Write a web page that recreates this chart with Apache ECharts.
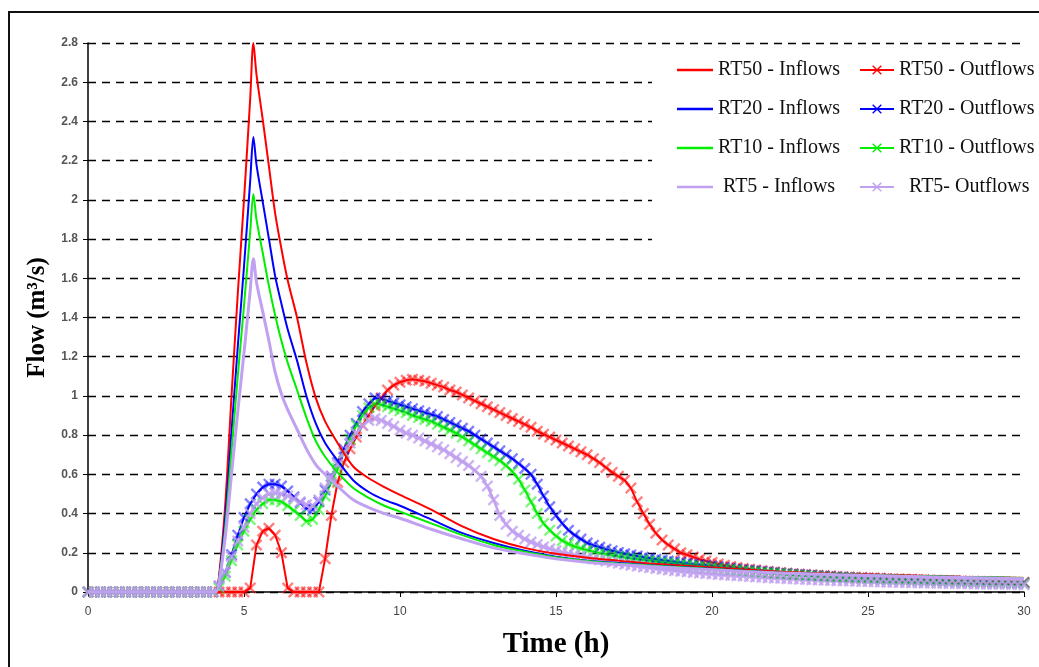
<!DOCTYPE html>
<html>
<head>
<meta charset="utf-8">
<title>Flow hydrographs</title>
<script src="https://cdn.jsdelivr.net/npm/echarts@6/dist/echarts.min.js"></script>
<style>
    html, body { margin: 0; padding: 0; background: #fff; }
    #main { width: 1039px; height: 667px; }
</style>
</head>
<body>
<div id="main"></div>
<script>
// inflow hydrographs (h -> m3/s)
var inTimes = [0, 4.0, 4.1, 4.2, 4.4, 4.6, 4.8, 5.0, 5.2, 5.3, 5.4, 5.6, 5.8, 6.0, 6.2, 6.4, 6.7, 7.0, 7.3, 7.6,
    8.0, 8.5, 9.0, 9.5, 10, 11, 12, 13, 14, 15, 16, 17, 18, 20, 22, 24, 26, 28, 30];
var rt50In = [0, 0, 0, 0.08, 0.45, 1.0, 1.52, 2.0, 2.52, 2.8, 2.64, 2.41, 2.17, 1.93, 1.75, 1.59, 1.40, 1.17, 0.99, 0.87,
    0.76, 0.64, 0.58, 0.535, 0.495, 0.42, 0.335, 0.27, 0.225, 0.195, 0.175, 0.16, 0.145, 0.125, 0.105, 0.093, 0.085, 0.078, 0.072];
var rt20In = [0, 0, 0, 0.07, 0.38, 0.82, 1.25, 1.66, 2.1, 2.32, 2.18, 1.99, 1.8, 1.61, 1.47, 1.34, 1.18, 1.0, 0.86, 0.76,
    0.67, 0.57, 0.51, 0.47, 0.44, 0.37, 0.3, 0.25, 0.21, 0.18, 0.16, 0.148, 0.137, 0.118, 0.1, 0.09, 0.082, 0.076, 0.07];
var rt10In = [0, 0, 0, 0.06, 0.33, 0.72, 1.1, 1.46, 1.84, 2.03, 1.9, 1.73, 1.56, 1.41, 1.28, 1.17, 1.03, 0.89, 0.77, 0.69,
    0.61, 0.53, 0.48, 0.44, 0.41, 0.35, 0.29, 0.24, 0.205, 0.177, 0.158, 0.145, 0.135, 0.117, 0.1, 0.09, 0.083, 0.077, 0.072];
var rt5In = [0, 0, 0, 0.05, 0.28, 0.6, 0.92, 1.22, 1.54, 1.70, 1.58, 1.43, 1.28, 1.12, 1.01, 0.93, 0.83, 0.73, 0.65, 0.6,
    0.54, 0.47, 0.43, 0.4, 0.376, 0.32, 0.27, 0.225, 0.195, 0.17, 0.152, 0.14, 0.13, 0.113, 0.098, 0.088, 0.08, 0.074, 0.068];

// outflow hydrographs, one value every 0.2 h from 0 to 30 h
var outStep = 0.2;
var rt50Out = [
    0, 0, 0, 0, 0, 0, 0, 0, 0, 0,
    0, 0, 0, 0, 0, 0, 0, 0, 0, 0,
    0, 0, 0, 0, 0, 0, 0.02, 0.24, 0.31, 0.325,
    0.29, 0.2, 0.02, 0, 0, 0, 0, 0, 0.17, 0.39,
    0.56, 0.66, 0.73, 0.79, 0.85, 0.9, 0.95, 0.99, 1.03, 1.055,
    1.07, 1.08, 1.085, 1.08, 1.075, 1.065, 1.055, 1.045, 1.03, 1.02,
    1.005, 0.99, 0.975, 0.96, 0.945, 0.93, 0.915, 0.9, 0.885, 0.87,
    0.855, 0.84, 0.82, 0.805, 0.79, 0.775, 0.76, 0.745, 0.73, 0.715,
    0.7, 0.68, 0.66, 0.635, 0.61, 0.59, 0.57, 0.53, 0.46, 0.4,
    0.345, 0.3, 0.265, 0.24, 0.22, 0.2, 0.19, 0.178, 0.167, 0.158,
    0.15, 0.143, 0.136, 0.13, 0.125, 0.12, 0.116, 0.112, 0.108, 0.105,
    0.102, 0.099, 0.096, 0.093, 0.091, 0.089, 0.087, 0.085, 0.083, 0.081,
    0.079, 0.078, 0.076, 0.075, 0.074, 0.072, 0.071, 0.07, 0.069, 0.068,
    0.066, 0.065, 0.064, 0.063, 0.062, 0.061, 0.06, 0.059, 0.058, 0.057,
    0.056, 0.055, 0.055, 0.054, 0.053, 0.052, 0.052, 0.051, 0.05, 0.05,
    0.05
];
var rt20Out = [
    0, 0, 0, 0, 0, 0, 0, 0, 0, 0,
    0, 0, 0, 0, 0, 0, 0, 0, 0, 0,
    0, 0.03, 0.1, 0.19, 0.29, 0.38, 0.45, 0.5, 0.535, 0.55,
    0.55, 0.54, 0.515, 0.485, 0.455, 0.425, 0.42, 0.46, 0.52, 0.59,
    0.66, 0.73, 0.8, 0.86, 0.92, 0.96, 0.99, 0.985, 0.975, 0.965,
    0.955, 0.945, 0.935, 0.925, 0.915, 0.905, 0.895, 0.88, 0.865, 0.85,
    0.835, 0.82, 0.8, 0.78, 0.76, 0.74, 0.72, 0.7, 0.68, 0.655,
    0.63, 0.6, 0.55, 0.49, 0.435, 0.39, 0.35, 0.315, 0.29, 0.27,
    0.25, 0.238, 0.228, 0.218, 0.21, 0.202, 0.195, 0.189, 0.183, 0.177,
    0.172, 0.167, 0.162, 0.158, 0.154, 0.15, 0.146, 0.142, 0.139, 0.136,
    0.133, 0.129, 0.125, 0.121, 0.117, 0.114, 0.111, 0.108, 0.105, 0.102,
    0.099, 0.096, 0.094, 0.091, 0.089, 0.087, 0.085, 0.083, 0.081, 0.079,
    0.077, 0.075, 0.074, 0.072, 0.071, 0.069, 0.068, 0.067, 0.065, 0.064,
    0.063, 0.062, 0.061, 0.06, 0.059, 0.058, 0.057, 0.056, 0.055, 0.054,
    0.053, 0.052, 0.051, 0.051, 0.05, 0.049, 0.048, 0.048, 0.047, 0.046,
    0.046
];
var rt10Out = [
    0, 0, 0, 0, 0, 0, 0, 0, 0, 0,
    0, 0, 0, 0, 0, 0, 0, 0, 0, 0,
    0, 0.02, 0.08, 0.16, 0.24, 0.31, 0.37, 0.42, 0.45, 0.47,
    0.47, 0.46, 0.44, 0.415, 0.39, 0.36, 0.37, 0.42, 0.49, 0.56,
    0.63, 0.71, 0.78, 0.85, 0.9, 0.94, 0.96, 0.955, 0.945, 0.935,
    0.925, 0.915, 0.9, 0.89, 0.88, 0.87, 0.855, 0.84, 0.825, 0.81,
    0.79, 0.77, 0.75, 0.73, 0.71, 0.69, 0.67, 0.645, 0.615, 0.575,
    0.52, 0.46, 0.4, 0.35, 0.315, 0.285, 0.262, 0.245, 0.232, 0.222,
    0.213, 0.205, 0.198, 0.192, 0.186, 0.181, 0.176, 0.171, 0.167, 0.163,
    0.159, 0.155, 0.151, 0.147, 0.144, 0.14, 0.137, 0.134, 0.131, 0.128,
    0.125, 0.121, 0.118, 0.115, 0.112, 0.109, 0.106, 0.103, 0.1, 0.098,
    0.095, 0.093, 0.09, 0.088, 0.086, 0.084, 0.082, 0.08, 0.078, 0.076,
    0.074, 0.073, 0.071, 0.07, 0.068, 0.067, 0.066, 0.064, 0.063, 0.062,
    0.061, 0.06, 0.059, 0.058, 0.057, 0.056, 0.055, 0.054, 0.053, 0.052,
    0.051, 0.05, 0.05, 0.049, 0.048, 0.047, 0.047, 0.046, 0.045, 0.045,
    0.044
];
var rt5Out = [
    0, 0, 0, 0, 0, 0, 0, 0, 0, 0,
    0, 0, 0, 0, 0, 0, 0, 0, 0, 0,
    0, 0.03, 0.1, 0.18, 0.26, 0.33, 0.4, 0.45, 0.48, 0.5,
    0.505, 0.5, 0.49, 0.475, 0.46, 0.445, 0.44, 0.47, 0.53, 0.59,
    0.65, 0.71, 0.76, 0.81, 0.85, 0.875, 0.885, 0.875, 0.86, 0.845,
    0.825, 0.81, 0.8, 0.785, 0.77, 0.755, 0.74, 0.725, 0.705, 0.685,
    0.665, 0.645, 0.62, 0.59, 0.54, 0.47, 0.39, 0.345, 0.31, 0.29,
    0.27, 0.255, 0.242, 0.23, 0.22, 0.21, 0.202, 0.195, 0.188, 0.182,
    0.176, 0.17, 0.164, 0.158, 0.152, 0.147, 0.142, 0.137, 0.132, 0.128,
    0.124, 0.12, 0.116, 0.112, 0.109, 0.106, 0.103, 0.1, 0.097, 0.094,
    0.092, 0.089, 0.087, 0.085, 0.083, 0.081, 0.079, 0.077, 0.075, 0.073,
    0.071, 0.07, 0.068, 0.067, 0.065, 0.064, 0.063, 0.061, 0.06, 0.059,
    0.058, 0.057, 0.056, 0.055, 0.054, 0.053, 0.052, 0.051, 0.05, 0.05,
    0.049, 0.048, 0.047, 0.047, 0.046, 0.045, 0.045, 0.044, 0.043, 0.043,
    0.042, 0.042, 0.041, 0.041, 0.04, 0.04, 0.039, 0.039, 0.038, 0.038,
    0.037
];

var inNames = ['RT50 - Inflows', 'RT20 - Inflows', 'RT10 - Inflows', 'RT5 - Inflows'];
var outNames = ['RT50 - Outflows', 'RT20 - Outflows', 'RT10 - Outflows', 'RT5- Outflows'];
var colors = ['#ff0000', '#0000ff', '#00ee00', '#c0a0f0'];
var markOpacity = [0.5, 0.5, 0.5, 0.8];

// filled "x" marker, slightly heavier arms for the data points
var crossMark = 'path://M0,1L1,0L5,4L9,0L10,1L6,5L10,9L9,10L5,6L1,10L0,9L4,5Z';
var crossBold = 'path://M0,1.4L1.4,0L5,3.6L8.6,0L10,1.4L6.4,5L10,8.6L8.6,10L5,6.4L1.4,10L0,8.6L3.6,5Z';
// plain line icon for the inflow entries (invisible corner points keep the box size)
var lineIcon = 'path://M0,0L0,0M0,4.6L38,4.6L38,7.4L0,7.4ZM38,12L38,12';

function pairs(times, vals) {
    return vals.map(function (v, i) { return [times[i], v]; });
}
var outTimes = rt50Out.map(function (v, i) { return +(i * outStep).toFixed(1); });

var inData = [rt50In, rt20In, rt10In, rt5In];
var outData = [rt50Out, rt20Out, rt10Out, rt5Out];

var series = [];
for (var k = 0; k < 4; k++) {
    series.push({
        name: inNames[k],
        type: 'line',
        data: pairs(inTimes, inData[k]),
        showSymbol: false,
        symbol: 'none',
        smooth: 0.3,
        color: colors[k],
        lineStyle: { color: colors[k], width: k === 3 ? 3 : 2 },
        z: 3
    });
    // outflow line (its symbol only feeds the legend icon)
    series.push({
        name: outNames[k],
        type: 'line',
        data: pairs(outTimes, outData[k]),
        symbol: crossMark,
        symbolSize: 10,
        showSymbol: false,
        color: colors[k],
        itemStyle: { color: colors[k] },
        lineStyle: { color: colors[k], width: k === 3 ? 2.5 : 2 },
        z: 2
    });
    // every outflow sample gets its cross
    series.push({
        name: outNames[k],
        type: 'scatter',
        data: pairs(outTimes, outData[k]),
        symbol: crossBold,
        symbolSize: 12,
        color: colors[k],
        itemStyle: { color: colors[k], opacity: markOpacity[k] },
        z: 2
    });
}

var chart = echarts.init(document.getElementById('main'));

var legendText = { fontFamily: 'Liberation Serif', fontSize: 20, color: '#111' };
function legendLabel(name) {
    if (name === 'RT5 - Inflows') return ' ' + name;
    if (name === 'RT5- Outflows') return '  ' + name;
    return name;
}

var option = {
    animation: false,
    backgroundColor: '#fff',
    grid: { left: 88, right: 15, top: 43, bottom: 75 },
    graphic: [
        {
            type: 'rect', z: 3,
            shape: { x: 652, y: 56, width: 400, height: 198 },
            style: { fill: '#fff' }
        },
        {
            type: 'rect', z: 10, silent: true,
            shape: { x: 9, y: 12, width: 1050, height: 700 },
            style: { fill: 'none', stroke: '#111', lineWidth: 2 }
        }
    ],
    legend: [
        {
            data: inNames.map(function (n) { return { name: n, icon: lineIcon }; }),
            orient: 'vertical',
            left: 672, top: 55,
            itemWidth: 36, itemHeight: 12,
            itemGap: 19,
            formatter: legendLabel,
            textStyle: legendText,
            z: 6
        },
        {
            data: outNames,
            orient: 'vertical',
            left: 854, top: 55,
            itemWidth: 34, itemHeight: 12,
            itemGap: 19,
            formatter: legendLabel,
            textStyle: legendText,
            z: 6
        }
    ],
    xAxis: {
        type: 'value',
        min: 0, max: 30, interval: 5,
        name: 'Time (h)',
        nameLocation: 'middle',
        nameGap: 38,
        nameTextStyle: { fontFamily: 'Liberation Serif', fontWeight: 'bold', fontSize: 29, color: '#000' },
        axisLine: { onZero: false, lineStyle: { color: '#000', width: 1.5 } },
        axisTick: { show: true, length: 5, lineStyle: { color: '#000' } },
        axisLabel: { fontFamily: 'Liberation Sans Narrow, Liberation Sans', fontSize: 12, color: '#444', margin: 14 },
        splitLine: { show: false }
    },
    yAxis: [
        {
            type: 'value',
            min: 0, max: 2.8, interval: 0.2,
            name: 'Flow (m³/s)',
            nameLocation: 'middle',
            nameGap: 38,
            nameTextStyle: { fontFamily: 'Liberation Serif', fontWeight: 'bold', fontSize: 25, color: '#000' },
            axisLine: { show: true, lineStyle: { color: '#000', width: 1.5 } },
            axisTick: { show: true, length: 5, lineStyle: { color: '#000' } },
            axisLabel: { fontFamily: 'Liberation Sans', fontWeight: 'bold', fontSize: 12, color: '#555', margin: 10 },
            splitLine: { show: true, lineStyle: { color: '#000', width: 1.4, type: [8, 6] } }
        },
        {
            type: 'value',
            min: 0, max: 2.8, interval: 0.2,
            position: 'left',
            axisLine: { show: false },
            axisTick: { show: true, inside: true, length: 5, lineStyle: { color: '#000' } },
            axisLabel: { show: false },
            splitLine: { show: false }
        }
    ],
    series: series
};

chart.setOption(option);
window.addEventListener('resize', function () {
    chart.resize();
});
</script>
</body>
</html>
